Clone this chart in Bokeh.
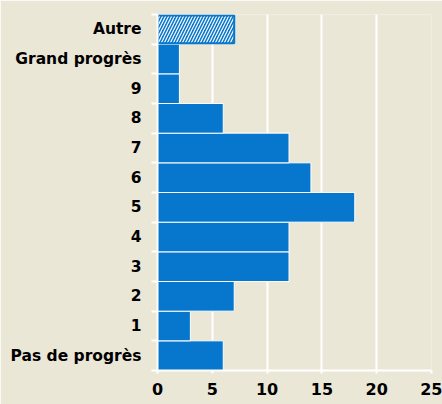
from bokeh.plotting import figure
from bokeh.models import Range1d, FixedTicker, CustomJSTickFormatter, ColumnDataSource
from bokeh.embed import file_html
from bokeh.resources import INLINE

# Data (bottom to top)
categories = ["Pas de progrès", "1", "2", "3", "4", "5", "6", "7", "8", "9", "Grand progrès", "Autre"]
counts = [6, 3, 7, 12, 12, 18, 14, 12, 6, 2, 2, 7]
x_ticks = [0, 5, 10, 15, 20, 25]

BG = "#EBE7D7"
BLUE = "#0677CC"
FONT = "DejaVu Sans"

centers = [i + 0.5 for i in range(len(categories))]
main = ColumnDataSource(dict(y=centers[:-1], v=counts[:-1]))
other = ColumnDataSource(dict(y=centers[-1:], v=counts[-1:]))

p = figure(width=442, height=404, output_backend="svg", toolbar_location=None,
           x_range=Range1d(0, 25), y_range=Range1d(0, len(categories)),
           min_border_left=157, min_border_right=11, min_border_top=14, min_border_bottom=34)
p.background_fill_color = BG
p.border_fill_color = BG
p.outline_line_color = None

p.hbar(y="y", right="v", left=0, height=1, source=main,
       fill_color=BLUE, line_color="white", line_width=1)
p.hbar(y="y", right="v", left=0, height=0.94, source=other,
       fill_color=BLUE, line_color=BLUE, line_width=2,
       hatch_pattern="/", hatch_color="white", hatch_weight=1.2, hatch_scale=6)

# grids
p.ygrid.visible = False
p.xgrid.grid_line_color = "white"
p.xgrid.grid_line_width = 2
p.xgrid.ticker = FixedTicker(ticks=x_ticks)

# x axis
xa = p.xaxis[0]
xa.ticker = FixedTicker(ticks=x_ticks)
xa.axis_line_color = "white"
xa.axis_line_width = 2
xa.major_tick_line_color = "white"
xa.major_tick_line_width = 2
xa.major_tick_in = 0
xa.major_tick_out = 3
xa.minor_tick_line_color = None
xa.minor_tick_out = 0
xa.minor_tick_in = 0
xa.major_label_text_font = FONT
xa.major_label_text_font_style = "bold"
xa.major_label_text_font_size = "16px"
xa.major_label_text_color = "black"
xa.major_label_standoff = 9

# y axis
ya = p.yaxis[0]
ya.ticker = FixedTicker(ticks=centers, minor_ticks=list(range(len(categories) + 1)))
ya.formatter = CustomJSTickFormatter(args=dict(names=categories),
                                     code="const i = Math.round(tick - 0.5); return names[i] ?? '';")
ya.axis_line_color = "white"
ya.axis_line_width = 2
ya.major_tick_line_color = None
ya.major_tick_in = 0
ya.major_tick_out = 0
ya.minor_tick_line_color = "white"
ya.minor_tick_line_width = 2
ya.minor_tick_in = 0
ya.minor_tick_out = 6
ya.major_label_text_font = FONT
ya.major_label_text_font_style = "bold"
ya.major_label_text_font_size = "15.5px"
ya.major_label_text_color = "black"
ya.major_label_standoff = 10

html = file_html(p, INLINE)
html = html.replace("<body>", '<body style="background:%s">' % BG, 1)
open("out.html", "w").write(html)
